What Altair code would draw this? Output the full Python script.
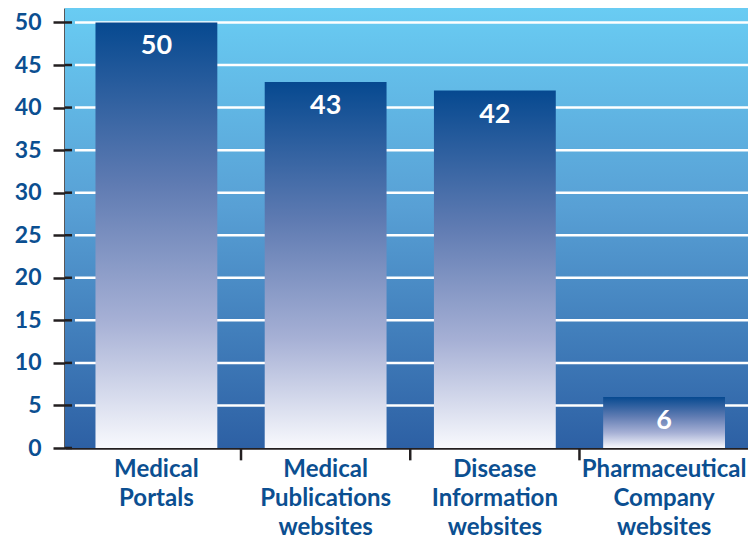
import altair as alt
import pandas as pd

categories = ["Medical|Portals", "Medical|Publications|websites", "Disease|Information|websites", "Pharmaceutical|Company|websites"]
values = [50, 43, 42, 6]
grid_values = [5, 10, 15, 20, 25, 30, 35, 40, 45, 50]
tick_values = [0, 5, 10, 15, 20, 25, 30, 35, 40, 45, 50]
boundary_cats = categories[1:]

df = pd.DataFrame({"cat": categories, "val": values})
grid_df = pd.DataFrame({"g": grid_values})
tick_df = pd.DataFrame({"t": tick_values})
bound_df = pd.DataFrame({"cat": boundary_cats})

FONT = "Lato"
TEXT_BLUE = "#0b4f91"
AXIS_DARK = "#231f20"

y_scale = alt.Scale(domain=[0, 51.7], nice=False, zero=True)
x_scale = alt.Scale(domain=categories, paddingInner=0.28, paddingOuter=0.158, align=0.57)

bg_grad = alt.Gradient(
    gradient="linear", x1=0, x2=0, y1=0, y2=1,
    stops=[alt.GradientStop(offset=0, color="#69ccf3"),
           alt.GradientStop(offset=0.45, color="#58a0d5"),
           alt.GradientStop(offset=1, color="#2d60a4")],
)
bar_grad = alt.Gradient(
    gradient="linear", x1=0, x2=0, y1=0, y2=1,
    stops=[alt.GradientStop(offset=0, color="#064990"),
           alt.GradientStop(offset=0.38, color="#5f7bb2"),
           alt.GradientStop(offset=0.7, color="#a6b0d5"),
           alt.GradientStop(offset=1, color="#f8f9fd")],
)

background = alt.Chart(alt.Data(values=[{"a": 1}])).mark_rect(fill=bg_grad).encode(
    x=alt.value(0), x2=alt.value("width"), y=alt.value(0), y2=alt.value("height")
)

grid = alt.Chart(grid_df).mark_rule(color="white", strokeWidth=2.5).encode(
    y=alt.Y("g:Q", scale=y_scale),
    x=alt.value(10), x2=alt.value("width"),
)

tick_ext = alt.Chart(tick_df).mark_rule(color=AXIS_DARK, strokeWidth=2.5).encode(
    y=alt.Y("t:Q", scale=y_scale),
    x=alt.value(0), x2=alt.value(7),
)

x_ticks = alt.Chart(bound_df).mark_rule(color=AXIS_DARK, strokeWidth=2.5, xOffset=-23.7).encode(
    x=alt.X("cat:N", scale=x_scale, bandPosition=0),
    y=alt.datum(0, scale=y_scale),
    y2=alt.datum(-1.45),
)

x_enc = alt.X(
    "cat:N", scale=x_scale,
    axis=alt.Axis(
        title=None, labelAngle=0, labelExpr="split(datum.label, '|')",
        labelFont=FONT, labelFontSize=24, labelFontWeight="bold", labelColor=TEXT_BLUE,
        labelLineHeight=29, labelPadding=9, labelLimit=300,
        ticks=False,
        domainColor=AXIS_DARK, domainWidth=2.5,
    ),
)

bars = alt.Chart(df).mark_bar(fill=bar_grad).encode(
    x=x_enc,
    y=alt.Y("val:Q", scale=y_scale, axis=alt.Axis(
        title=None, values=tick_values, grid=False,
        labelFont=FONT, labelFontSize=23, labelFontWeight="bold", labelColor=TEXT_BLUE,
        labelPadding=12, tickSize=12, tickWidth=2.5, tickColor=AXIS_DARK,
        domainColor=AXIS_DARK, domainWidth=2.5,
    )),
)

labels = alt.Chart(df).mark_text(
    font=FONT, fontSize=27, fontWeight="bold", color="white", baseline="middle", dy=24
).encode(
    x=alt.X("cat:N", scale=x_scale),
    y=alt.Y("val:Q", scale=y_scale),
    text=alt.Text("val:Q"),
)

chart = alt.layer(background, grid, tick_ext, bars, x_ticks, labels).properties(
    width=683, height=440,
    autosize=alt.AutoSizeParams(type="none"),
    padding={"left": 57, "top": 0, "right": 0, "bottom": 90},
).configure_view(stroke=None)

chart.save("out.html", embed_options={"renderer": "svg", "actions": False})
